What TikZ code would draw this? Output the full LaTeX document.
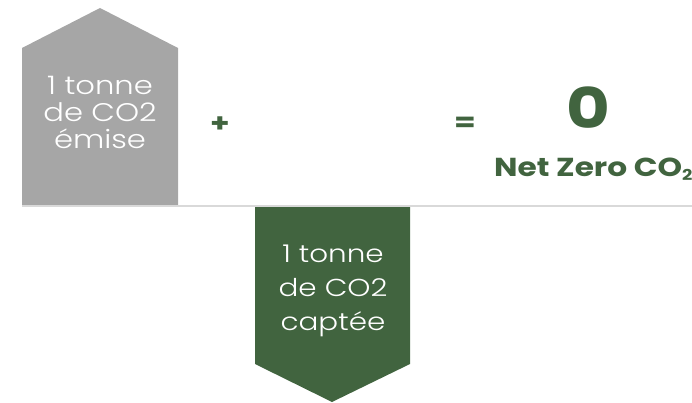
\documentclass[tikz,border=0pt]{standalone}
\usepackage{fontspec}
\setmainfont{Poppins}[UprightFont=* Light, BoldFont=* Bold, FakeStretch=1.2]
\definecolor{housegray}{HTML}{A6A6A6}
\definecolor{leafgreen}{HTML}{41643F}
\definecolor{rulegray}{HTML}{D9D9D9}
\begin{document}
\begin{tikzpicture}[x=1pt,y=-1pt,
  boxtext/.style={text=white,align=center,font=\fontsize{25.5}{27}\selectfont},
  optext/.style={text=leafgreen,font=\fontsize{26}{26}\selectfont\bfseries}]
\useasboundingbox (0,0) rectangle (692,403);
\clip (0,0) rectangle (692,403);
\fill[housegray] (22,205) -- (22,48) -- (100,8) -- (178,48) -- (178,205) -- cycle;
\draw[rulegray,line width=1.5pt] (22,206) -- (692,206);
\fill[leafgreen] (255,207) -- (410,207) -- (410,364) -- (332,402) -- (255,364) -- cycle;
\node[boxtext] (emise) at (100,112) {1 tonne\\de CO2\\émise};
\node[boxtext,font=\fontsize{24.5}{34}\selectfont] (captee) at (333,291) {1 tonne\\de CO2\\captée};
\node[optext] (plus) at (220,125) {+};
\node[optext] (eq) at (465,124) {=};
\node[text=leafgreen,font=\fontsize{56}{56}\selectfont\bfseries] (zero) at (588,108) {0};
\node[text=leafgreen,font=\fontsize{26}{26}\selectfont\bfseries,anchor=base west,inner sep=0pt] (nz) at (494,177) {Net Zero CO\raisebox{-0.25ex}{\fontsize{15}{15}\selectfont 2}};
\end{tikzpicture}
\end{document}
